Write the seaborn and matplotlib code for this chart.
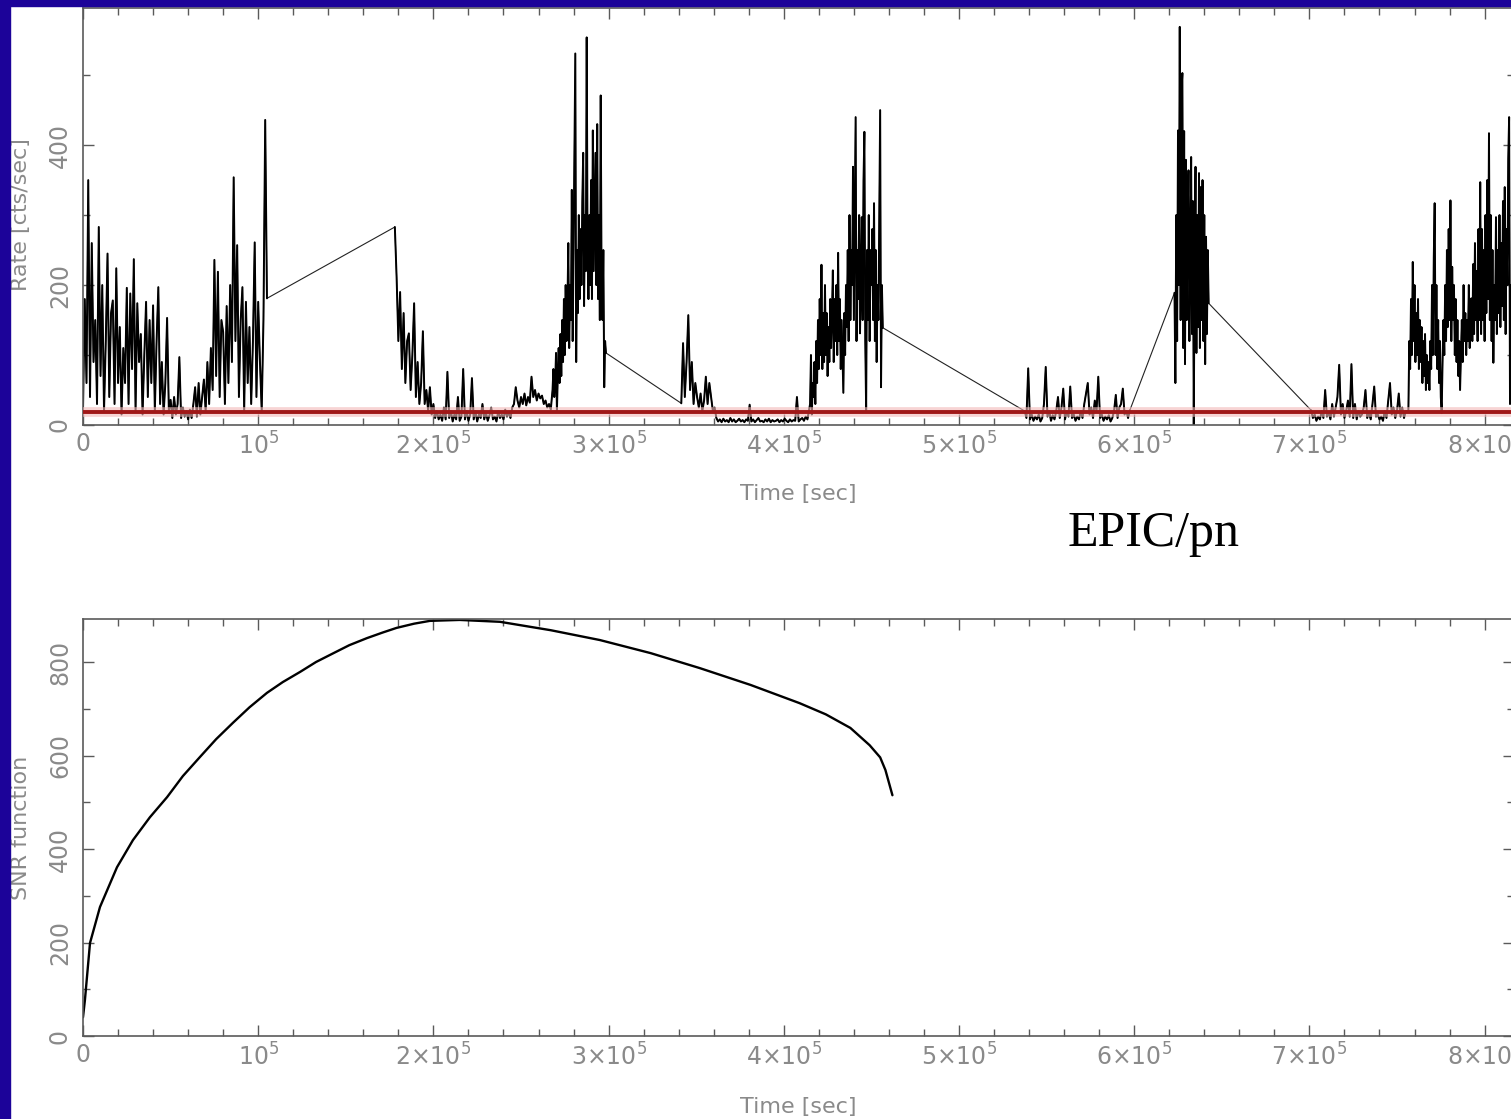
import numpy as np
import pandas as pd
import matplotlib
matplotlib.use("Agg")
import matplotlib.pyplot as plt
import seaborn as sns
from matplotlib.ticker import MultipleLocator, FuncFormatter
from matplotlib.patches import Rectangle

# === DATI ===
# curva di luce EPIC/pn a pezzi (GTI): inizio [ks], passo del bin [ks], rate [cts/s]
seg_a_start, seg_a_step = 0, 1.0
seg_a_rate = [20, 180, 60, 350, 40, 260, 90, 150, 30, 283, 70, 200, 20, 120, 245, 40, 160, 178, 30, 224,
              60, 140, 15, 110, 60, 196, 30, 188, 80, 237, 20, 174, 90, 130, 15, 100, 176, 40, 150, 60,
              171, 20, 120, 197, 30, 90, 15, 60, 153, 20, 36, 10, 40, 15, 30, 97, 10, 25, 12, 20,
              8, 22, 10, 30, 54, 12, 60, 15, 40, 65, 20, 90, 30, 110, 50, 236, 70, 219, 40, 150,
              133, 30, 170, 60, 200, 90, 354, 120, 257, 40, 150, 197, 20, 176, 60, 140, 30, 120, 261, 40,
              176, 90, 20, 150, 436, 181]

seg_b1_start, seg_b1_step = 178, 1.0
seg_b1_rate = [283, 211, 120, 190, 80, 160, 60, 120, 131, 50, 100, 174, 40, 90, 30, 60, 134, 30, 50, 20,
               54, 15, 30, 10, 20, 8, 15, 6, 25, 8, 76, 10, 20, 5, 15, 8, 40, 6, 12, 80,
               8, 20, 6, 15, 67, 8, 20, 5, 15, 10, 30, 8, 18, 6, 14, 25, 8, 12, 5, 20,
               10, 15, 8, 22, 12, 18, 10, 25, 30, 54, 35, 25, 40, 30, 45, 28, 40, 32, 69, 40,
               50, 35, 45, 38, 42, 30, 35, 25, 30, 22]

seg_b2_start, seg_b2_step = 268, 0.5
seg_b2_rate = [50, 80, 40, 60, 103, 20, 70, 110, 60, 130, 70, 150, 90, 180, 100, 200, 120, 170, 260, 110,
               200, 150, 336, 120, 250, 400, 531, 90, 250, 160, 300, 180, 280, 200, 320, 389, 170, 300, 220, 554,
               246, 180, 300, 200, 350, 180, 421, 220, 300, 389, 200, 430, 180, 300, 150, 471, 200, 150, 250, 54,
               120, 103]

seg_c1_start, seg_c1_step = 341.5, 1.0
seg_c1_rate = [31, 117, 40, 90, 157, 50, 90, 30, 60, 40, 25, 45, 20, 35, 69, 30, 60, 40, 20, 25,
               10, 5, 8, 4, 9, 5, 7, 4, 10, 5, 8, 4, 6, 9, 5, 7, 4, 8, 6, 29,
               5, 8, 4, 7, 10, 5, 6, 4, 8, 5, 9, 4, 7, 5, 6, 8, 4, 7, 5, 9,
               6, 4, 8, 5, 7, 6, 40, 5, 8, 10, 6, 12, 8]

seg_c2_start, seg_c2_step = 415, 0.5
seg_c2_rate = [30, 100, 15, 60, 40, 90, 30, 120, 60, 150, 80, 180, 100, 229, 80, 160, 90, 200, 100, 160,
               70, 140, 90, 180, 110, 160, 221, 90, 180, 120, 200, 100, 246, 120, 180, 80, 150, 100, 46, 160,
               100, 200, 140, 250, 120, 300, 150, 250, 200, 369, 150, 300, 440, 120, 250, 180, 300, 131, 220, 297,
               150, 350, 419, 120, 21, 250, 150, 300, 120, 250, 200, 280, 150, 317, 120, 250, 90, 200, 150, 300,
               450, 54, 200, 139]

seg_d_start, seg_d_step = 537.5, 1.0
seg_d_rate = [20, 10, 81, 8, 15, 6, 12, 8, 15, 5, 10, 30, 83, 12, 20, 6, 14, 8, 20, 40,
              10, 25, 52, 8, 20, 12, 55, 10, 15, 6, 12, 8, 20, 10, 30, 45, 60, 15, 25, 10,
              35, 20, 69, 10, 15, 6, 12, 8, 14, 5, 10, 20, 43, 10, 25, 30, 52, 15, 20, 10,
              21]

seg_e_start, seg_e_step = 623, 0.5
seg_e_rate = [189, 60, 300, 120, 421, 200, 569, 150, 480, 503, 110, 420, 87, 379, 150, 300, 364, 120, 250, 383,
              130, 320, 0, 250, 369, 103, 300, 140, 360, 110, 340, 150, 350, 120, 300, 87, 269, 130, 250, 174]

seg_f_start, seg_f_step = 701, 1.0
seg_f_rate = [21, 10, 15, 6, 12, 8, 20, 10, 50, 12, 18, 8, 30, 12, 25, 40, 86, 15, 30, 10,
              20, 35, 12, 87, 10, 30, 8, 20, 12, 15, 25, 50, 10, 18, 8, 30, 55, 12, 15, 8,
              12, 6, 20, 10, 35, 60, 15, 25, 10, 20, 45, 12, 25, 10, 20]

seg_g_start, seg_g_step = 756.5, 0.5
seg_g_rate = [20, 120, 80, 180, 100, 233, 120, 200, 90, 160, 100, 180, 80, 150, 90, 140, 60, 120, 70, 130,
              50, 100, 60, 90, 50, 120, 80, 200, 100, 240, 317, 100, 200, 80, 150, 60, 120, 40, 17, 90,
              150, 100, 200, 120, 250, 140, 280, 150, 321, 120, 226, 150, 200, 100, 180, 90, 150, 70, 120, 50,
              100, 150, 90, 200, 120, 160, 100, 150, 120, 200, 110, 180, 181, 120, 230, 130, 260, 150, 220, 120,
              280, 150, 347, 130, 280, 150, 250, 120, 300, 160, 350, 180, 417, 150, 300, 120, 250, 89, 200, 150,
              297, 130, 250, 160, 300, 140, 260, 170, 320, 150, 340, 130, 280, 200, 380, 440, 30, 200, 150, 250,
              180]

# livello di soglia (linea rossa), cts/sec
threshold_rate = 19

# funzione SNR (tempo in ks)
snr_time = [0, 1.1, 4.0, 9.7, 19.4, 28.5, 38.2, 48, 57, 66.8, 76, 85.6, 95, 105, 114, 124, 133, 143, 152, 162,
            171, 179, 189, 198, 215, 238, 267, 295, 324, 352, 381, 409, 424, 438, 449, 455, 458, 462]
snr_value = [40, 77, 199, 276, 361, 419, 468, 511, 556, 597, 635, 670, 703, 734, 757, 779, 800, 819, 836, 851,
             863, 873, 882, 888, 890, 886, 868, 847, 819, 787, 751, 712, 688, 659, 622, 596, 569, 515]

# === COSTRUZIONE DATAFRAME ===
# (inizio, passo, rate, gruppo): i pezzi dello stesso gruppo sono contigui
segments = [
    (seg_a_start, seg_a_step, seg_a_rate, 0),
    (seg_b1_start, seg_b1_step, seg_b1_rate, 1),
    (seg_b2_start, seg_b2_step, seg_b2_rate, 1),
    (seg_c1_start, seg_c1_step, seg_c1_rate, 2),
    (seg_c2_start, seg_c2_step, seg_c2_rate, 2),
    (seg_d_start, seg_d_step, seg_d_rate, 3),
    (seg_e_start, seg_e_step, seg_e_rate, 4),
    (seg_f_start, seg_f_step, seg_f_rate, 5),
    (seg_g_start, seg_g_step, seg_g_rate, 5),
]
frames = []
for start, step, rate, grp in segments:
    t = (start + step * np.arange(len(rate))) * 1e3
    frames.append(pd.DataFrame({"time": t, "rate": rate, "seg": grp}))
lc = pd.concat(frames, ignore_index=True)

snr = pd.DataFrame({"time": np.array(snr_time) * 1e3, "snr": snr_value})

# === STILE ===
sns.set_style("ticks")
plt.rcParams["font.family"] = ["DejaVu Sans"]
plt.rcParams["mathtext.fontset"] = "dejavusans"

W, H = 1511, 1119
fig = plt.figure(figsize=(W / 100, H / 100), dpi=100, facecolor="white")

GRAY = "#8a8a8a"
SPINE = "#5a5a5a"
x_left = 83 / W
x_width = (1514 - 83) / W
x_max = (1514 - 83) / 1.752 * 1e3

ax1 = fig.add_axes([x_left, 1 - 425 / H, x_width, (425 - 8) / H])
ax2 = fig.add_axes([x_left, 1 - 1036 / H, x_width, (1036 - 619) / H])


def time_fmt(v, pos):
    k = int(round(v / 1e5))
    if k == 0:
        return "0"
    if k == 1:
        return r"$10^5$"
    return r"$%d{\times}10^5$" % k


def style_axis(ax, ymax):
    ax.set_xlim(0, x_max)
    ax.set_ylim(0, ymax)
    ax.set_facecolor("white")
    ax.xaxis.set_major_locator(MultipleLocator(1e5))
    ax.xaxis.set_minor_locator(MultipleLocator(2e4))
    ax.yaxis.set_major_locator(MultipleLocator(200))
    ax.yaxis.set_minor_locator(MultipleLocator(100))
    ax.xaxis.set_major_formatter(FuncFormatter(time_fmt))
    ax.tick_params(which="both", direction="in", top=True, right=True, color=SPINE,
                   labelcolor=GRAY, labelsize=17, width=1.0)
    ax.tick_params(which="major", length=8)
    ax.tick_params(which="minor", length=5)
    ax.tick_params(axis="x", pad=5)
    ax.tick_params(axis="y", pad=8)
    plt.setp(ax.get_yticklabels(), rotation=90, va="center")
    for s in ax.spines.values():
        s.set_color(SPINE)
        s.set_linewidth(1.2)
    ax.set_xlabel("")
    ax.set_ylabel("")


# === PANNELLO SUPERIORE: curva di luce ===
# linea sottile continua (collega anche i buchi tra i GTI)
sns.lineplot(data=lc, x="time", y="rate", estimator=None, sort=False,
             color="#222222", linewidth=0.8, ax=ax1)
# pezzi di dati, tratto piu spesso
sns.lineplot(data=lc, x="time", y="rate", units="seg", estimator=None, sort=False,
             color="black", linewidth=1.4, ax=ax1)
ax1.axhline(threshold_rate, color="#f2b8b8", linewidth=7, alpha=0.6, zorder=4)
ax1.axhline(threshold_rate, color="#a01818", linewidth=2.8, zorder=5)
style_axis(ax1, 596)

# === PANNELLO INFERIORE: funzione SNR ===
sns.lineplot(data=snr, x="time", y="snr", estimator=None, sort=False,
             color="black", linewidth=1.7, ax=ax2)
style_axis(ax2, 892)

# etichette degli assi
fig.text(798 / W, 1 - 494 / H, "Time [sec]", color=GRAY, fontsize=16, ha="center", va="center")
fig.text(798 / W, 1 - 1107 / H, "Time [sec]", color=GRAY, fontsize=16, ha="center", va="center")
fig.text(21 / W, 1 - 215 / H, "Rate [cts/sec]", color=GRAY, fontsize=16, ha="center", va="center", rotation=90)
fig.text(21 / W, 1 - 828 / H, "SNR function", color=GRAY, fontsize=16, ha="center", va="center", rotation=90)

# etichetta strumento
fig.text(1154 / W, 1 - 546 / H, "EPIC/pn", color="black", fontsize=36,
         family="Liberation Serif", ha="center", va="baseline")

# cornice blu della slide
BLUE = "#1c0399"
fig.add_artist(Rectangle((0, 0), 10 / W, 1, transform=fig.transFigure, color=BLUE, zorder=10))
fig.add_artist(Rectangle((0, 1 - 6 / H), 1, 6 / H, transform=fig.transFigure, color=BLUE, zorder=10))

fig.savefig("out.png", dpi=100, facecolor="white")
